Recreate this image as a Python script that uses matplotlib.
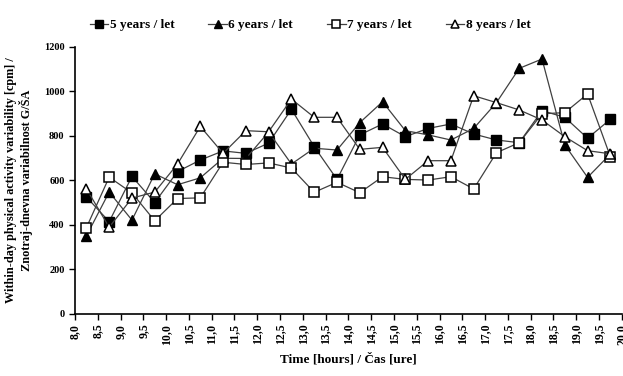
import matplotlib.pyplot as plt
import numpy as np

plt.rcParams['font.family'] = ['Liberation Serif', 'DejaVu Serif']
plt.rcParams['font.weight'] = 'bold'

# measurement times (half-hour blocks, centre of interval)
hours = [8.25, 8.75, 9.25, 9.75, 10.25, 10.75, 11.25, 11.75, 12.25, 12.75, 13.25, 13.75,
         14.25, 14.75, 15.25, 15.75, 16.25, 16.75, 17.25, 17.75, 18.25, 18.75, 19.25, 19.75]

y5 = [526, 415, 618, 501, 640, 692, 733, 722, 768, 920, 752, 605,
      805, 854, 797, 834, 854, 809, 782, 770, 914, 884, 790, 875]
y6 = [351, 548, 422, 630, 581, 612, 700, 699, 818, 674, 745, 737,
      860, 954, 824, 805, 782, 834, 950, 1104, 1146, 760, 614, 719]
y7 = [388, 615, 544, 419, 519, 522, 682, 672, 679, 656, 547, 592,
      545, 617, 605, 602, 617, 562, 725, 770, 900, 905, 989, 707]
y8 = [563, 390, 521, 548, 674, 843, 722, 824, 819, 966, 884, 884,
      740, 749, 605, 689, 689, 981, 950, 917, 872, 797, 734, 720]

labels = ['5 years / let', '6 years / let', '7 years / let', '8 years / let']
xticks = np.arange(8.0, 20.01, 0.5)
xticklabels = [('%.1f' % v).replace('.', ',') for v in xticks]

fig = plt.figure(figsize=(6.23, 3.76), dpi=100)
ax = fig.add_axes([0.1204, 0.1649, 0.8776, 0.7101])

lc = '#404040'
ax.plot(hours, y5, '-', color=lc, lw=0.9, marker='s', ms=6.5, mfc='black', mec='black', label=labels[0])
ax.plot(hours, y6, '-', color=lc, lw=0.9, marker='^', ms=6.5, mfc='black', mec='black', label=labels[1])
ax.plot(hours, y7, '-', color=lc, lw=0.9, marker='s', ms=6.5, mfc='white', mec='black', mew=1.1, label=labels[2])
ax.plot(hours, y8, '-', color=lc, lw=0.9, marker='^', ms=7, mfc='white', mec='black', mew=1.1, label=labels[3])

ax.set_xlim(8.0, 20.0)
ax.set_ylim(0, 1200)
ax.set_yticks(range(0, 1201, 200))
ax.set_xticks(xticks)
ax.set_xticklabels(xticklabels, rotation=90, fontsize=8.5, fontweight='bold')
ax.tick_params(axis='y', labelsize=7.5, direction='out', length=4, width=1)
ax.tick_params(axis='x', direction='out', length=4, width=1, pad=3)
for s in ['top', 'right']:
    ax.spines[s].set_visible(False)
for s in ['left', 'bottom']:
    ax.spines[s].set_linewidth(1.2)

ax.set_xlabel('Time [hours] / Čas [ure]', fontsize=9.5, fontweight='bold', labelpad=6)
ax.set_ylabel('Within-day physical activity variability [cpm] /\nZnotraj-dnevna variabilnost G/ŠA',
              fontsize=8.8, fontweight='bold', labelpad=8)

ax.legend(loc='lower center', bbox_to_anchor=(0.43, 1.015), ncol=4, frameon=False,
          fontsize=9.5, handlelength=1.4, handletextpad=0.1, columnspacing=2.6,
          markerscale=0.85)

fig.savefig('out.png', dpi=100)
